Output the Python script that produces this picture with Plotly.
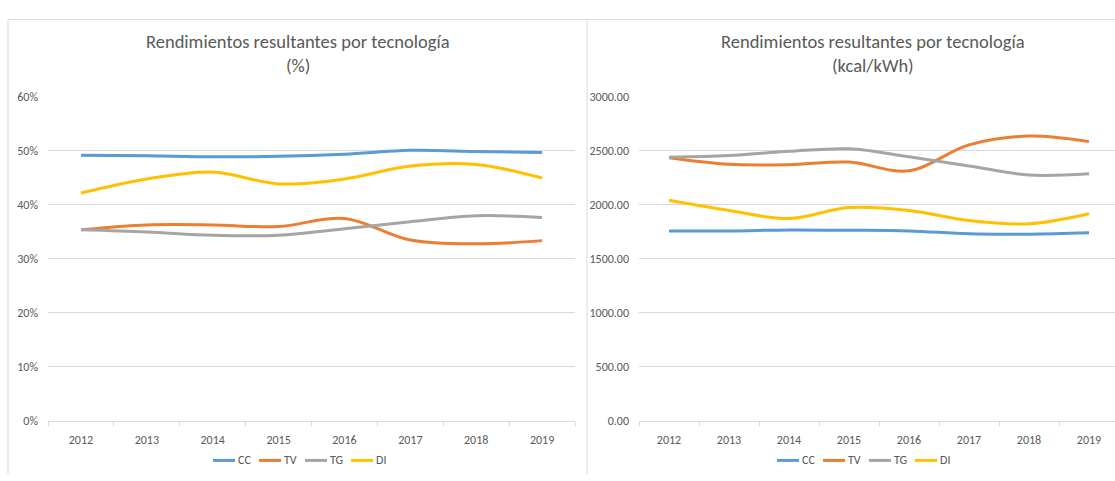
import plotly.graph_objects as go

# Years on the category axis
years = ["2012", "2013", "2014", "2015", "2016", "2017", "2018", "2019"]

# Efficiency by technology (%)
cc_pct = [49.1, 49.0, 48.8, 48.9, 49.3, 50.0, 49.8, 49.6]
tv_pct = [35.3, 36.2, 36.2, 35.9, 37.4, 33.4, 32.7, 33.3]
tg_pct = [35.3, 34.9, 34.3, 34.3, 35.5, 36.8, 37.9, 37.6]
di_pct = [42.1, 44.7, 46.0, 43.8, 44.7, 47.1, 47.4, 44.9]

# Heat rate by technology (kcal/kWh)
cc_kcal = [1755, 1755, 1764, 1761, 1755, 1728, 1725, 1737]
tv_kcal = [2431, 2371, 2368, 2392, 2311, 2551, 2632, 2581]
tg_kcal = [2437, 2452, 2491, 2514, 2440, 2356, 2272, 2284]
di_kcal = [2038, 1944, 1869, 1971, 1944, 1851, 1821, 1914]

series_names = ["CC", "TV", "TG", "DI"]
colors = ["#5B9BD5", "#ED7D31", "#A5A5A5", "#FFC000"]

W, H = 1115, 481
FONT = "Carlito, Calibri, 'Liberation Sans Narrow', 'Open Sans', sans-serif"
TEXT = "#595959"
GRID = "#D9D9D9"


def px_x(p):
    return p / W


def px_y(p):
    return 1 - p / H


fig = go.Figure()

left_sets = [cc_pct, tv_pct, tg_pct, di_pct]
right_sets = [cc_kcal, tv_kcal, tg_kcal, di_kcal]

for name, col, vals in zip(series_names, colors, left_sets):
    fig.add_trace(go.Scatter(
        x=years, y=vals, name=name, mode="lines",
        line=dict(color=col, width=3, shape="spline", smoothing=1.0),
        xaxis="x", yaxis="y", showlegend=False,
    ))

for name, col, vals in zip(series_names, colors, right_sets):
    fig.add_trace(go.Scatter(
        x=years, y=vals, name=name, mode="lines",
        line=dict(color=col, width=3, shape="spline", smoothing=1.0),
        xaxis="x2", yaxis="y2", showlegend=False,
    ))

plot_top, plot_bottom = 92, 426
ydom = [px_y(plot_bottom), px_y(plot_top)]

xaxis_common = dict(
    type="category", showline=True, linecolor=GRID, linewidth=1,
    ticks="outside", tickson="boundaries", ticklen=4, tickcolor=GRID,
    ticklabelstandoff=8,
    showgrid=False, zeroline=False,
    tickfont=dict(family=FONT, size=12, color=TEXT),
    fixedrange=True,
)
yaxis_common = dict(
    showgrid=True, gridcolor=GRID, gridwidth=1, zeroline=False,
    showline=False, ticks="", ticklabelstandoff=9,
    tickfont=dict(family=FONT, size=12, color=TEXT),
    fixedrange=True,
)

fig.update_layout(
    width=W, height=H,
    margin=dict(l=0, r=0, t=0, b=0),
    paper_bgcolor="white", plot_bgcolor="white",
    xaxis=dict(domain=[px_x(48), px_x(575)], range=[-0.5, 7.5], **xaxis_common),
    yaxis=dict(domain=ydom, range=[0, 60], dtick=10, ticksuffix="%", **yaxis_common),
    xaxis2=dict(domain=[px_x(639), 1.0], range=[-0.5, 7.5 - 4 / 60],
                anchor="y2", **xaxis_common),
    yaxis2=dict(domain=ydom, range=[0, 3000], dtick=500, tickformat=".2f",
                anchor="x2", **yaxis_common),
    showlegend=False,
)

# Chart titles
title_font = dict(family=FONT, size=18.5, color=TEXT)
for cx, unit in [(298, "(%)"), (873, "(kcal/kWh)")]:
    fig.add_annotation(x=px_x(cx), y=px_y(36), xref="paper", yref="paper",
                       text="Rendimientos resultantes por tecnología",
                       showarrow=False, font=title_font,
                       xanchor="center", yanchor="middle")
    fig.add_annotation(x=px_x(cx), y=px_y(60), xref="paper", yref="paper",
                       text=unit, showarrow=False, font=title_font,
                       xanchor="center", yanchor="middle")

# Compact legends below each chart (short line key + label)
legend_y = 467
key_len, item_pitch = 22, 46
for start in (213, 777):
    for i, (name, col) in enumerate(zip(series_names, colors)):
        x0 = start + i * item_pitch
        fig.add_shape(type="line", xref="paper", yref="paper",
                      x0=px_x(x0), x1=px_x(x0 + key_len),
                      y0=px_y(legend_y), y1=px_y(legend_y),
                      line=dict(color=col, width=3))
        fig.add_annotation(x=px_x(x0 + key_len + 1), y=px_y(legend_y),
                           xref="paper", yref="paper", text=name,
                           showarrow=False, xanchor="left", yanchor="middle",
                           font=dict(family=FONT, size=12, color=TEXT))

# Chart-area borders
border = dict(color=GRID, width=1)
fig.add_shape(type="line", xref="paper", yref="paper",
              x0=px_x(8), x1=1, y0=px_y(13), y1=px_y(13), line=border)
fig.add_shape(type="line", xref="paper", yref="paper",
              x0=px_x(8), x1=px_x(8), y0=px_y(13), y1=0, line=border)
fig.add_shape(type="line", xref="paper", yref="paper",
              x0=px_x(587), x1=px_x(587), y0=px_y(13), y1=0, line=border)

fig.write_html("out.html")
